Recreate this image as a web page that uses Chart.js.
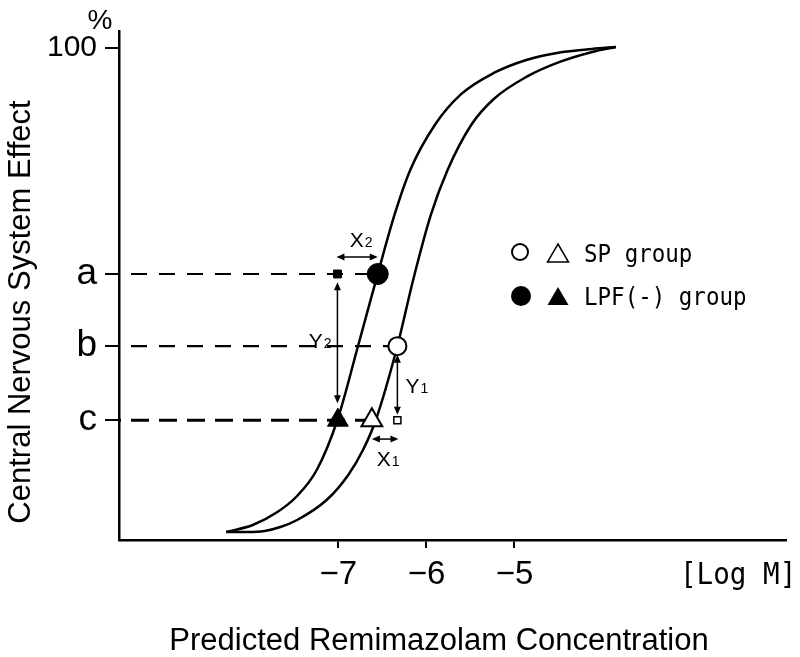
<!DOCTYPE html>
<html><head><meta charset="utf-8">
<script src="https://cdn.jsdelivr.net/npm/chart.js@4.4.0/dist/chart.umd.min.js"></script>
<style>html,body{margin:0;padding:0;background:#fff;}#wrap{width:800px;height:657px;}</style>
</head><body><div id="wrap"><canvas id="c" width="800" height="657"></canvas></div>
<script>
// ---------------- data ----------------
const xTickValues = [-7, -6, -5];
const xTickLabels = ['\u22127', '\u22126', '\u22125'];
const levelA = 53.3, levelB = 38.4, levelC = 23.1;
const yTickValues = [100, levelA, levelB, levelC];
const yTickLabels = ['100', 'a', 'b', 'c'];

// LPF(-) group curve (left)
const lpfCurveX = [-8.274, -7.972, -7.693, -7.469, -7.246, -7.011, -6.777, -6.553, -6.363, -6.184, -5.905, -5.603, -5.235, -4.866, -4.486, -4.117, -3.849];
const lpfCurveY = [0, 1.45, 4.13, 7.44, 12.81, 23.14, 38.43, 53.31, 65.50, 74.79, 84.09, 90.50, 94.83, 97.52, 99.07, 99.79, 100.2];
// SP group curve (right)
const spCurveX = [-8.274, -8.028, -7.838, -7.659, -7.469, -7.134, -6.888, -6.721, -6.575, -6.330, -6.151, -5.950, -5.760, -5.492, -5.235, -4.866, -4.486, -4.117, -3.849];
const spCurveY = [0, 0, 0.21, 1.03, 2.48, 6.61, 11.78, 16.94, 23.14, 38.43, 52.07, 65.50, 74.79, 84.09, 89.46, 94.01, 97.11, 99.17, 100.2];

// markers: LPF circle (a), SP circle (b), LPF triangle (c), SP triangle (c), reference square (a), reference square (c)
const markerX = [-6.553, -6.330, -7.006, -6.620, -7.011, -6.330];
const markerY = [levelA, levelB, levelC, levelC, levelA, levelC];

// dashed guide lines from the y axis
const guideY = [levelA, levelB, levelC];
const guideEndX = [-6.553, -6.330, -6.620];

// double arrows
const arrowLabels = ['X', 'Y', 'Y', 'X'];
const arrowSubs = ['2', '2', '1', '1'];
const arrowStartX = [-7.022, -7.011, -6.330, -6.620];
const arrowStartY = [56.8, 51.6, 36.6, 19.2];
const arrowEndX = [-6.553, -7.011, -6.330, -6.318];
const arrowEndY = [56.8, 26.6, 24.2, 19.2];

// ---------------- chart ----------------
const SANS = "'Liberation Sans', Arial, sans-serif";
const MONO = "'DejaVu Sans Mono', 'Liberation Mono', monospace";
const pts = (xs, ys) => xs.map((x, i) => ({x: x, y: ys[i]}));
const X_MIN = -9.492, X_MAX = -1.916;

const datasets = [];
datasets.push({
  data: pts(markerX, markerY), showLine: false,
  pointStyle: ['circle', 'circle', 'triangle', 'triangle', 'rect', 'rect'],
  pointRadius: [10.5, 9, 12, 12, 5.6, 5],
  pointBackgroundColor: ['#000', '#fff', '#000', '#fff', '#000', '#fff'],
  pointBorderColor: '#000',
  pointBorderWidth: [1, 2, 1, 2, 1, 1.5],
  pointHoverRadius: 0
});
const guideDash = [[16, 12], [16, 12], [18, 10]];
const guideWidth = [2.2, 2.2, 3];
guideY.forEach((y, i) => {
  datasets.push({
    data: [{x: X_MIN, y: y}, {x: guideEndX[i], y: y}], showLine: true,
    borderColor: '#000', borderWidth: guideWidth[i], borderDash: guideDash[i], borderDashOffset: 16,
    pointRadius: 0, fill: false
  });
});
[[lpfCurveX, lpfCurveY], [spCurveX, spCurveY]].forEach(c => {
  datasets.push({
    data: pts(c[0], c[1]), showLine: true, borderColor: '#000', borderWidth: 2.5,
    cubicInterpolationMode: 'monotone', pointRadius: 0, fill: false
  });
});

function drawArrowHead(ctx, x, y, ang) {
  const L = 8, W = 3.5;
  ctx.beginPath();
  ctx.moveTo(x, y);
  ctx.lineTo(x - L * Math.cos(ang) + W * Math.sin(ang), y - L * Math.sin(ang) - W * Math.cos(ang));
  ctx.lineTo(x - L * Math.cos(ang) - W * Math.sin(ang), y - L * Math.sin(ang) + W * Math.cos(ang));
  ctx.closePath();
  ctx.fill();
}

const labelOffsets = [[4, -10, 'center'], [-6, 5, 'right'], [8, 8, 'left'], [3, 27, 'center']];

const annot = {
  id: 'annot',
  afterDatasetsDraw(chart) {
    const ctx = chart.ctx, xs = chart.scales.x, ys = chart.scales.y;
    ctx.save();
    ctx.fillStyle = '#000'; ctx.strokeStyle = '#000';
    // arrows
    for (let i = 0; i < arrowStartX.length; i++) {
      const x1 = xs.getPixelForValue(arrowStartX[i]), y1 = ys.getPixelForValue(arrowStartY[i]);
      const x2 = xs.getPixelForValue(arrowEndX[i]), y2 = ys.getPixelForValue(arrowEndY[i]);
      const ang = Math.atan2(y2 - y1, x2 - x1);
      ctx.lineWidth = 1.5;
      ctx.beginPath(); ctx.moveTo(x1 + 4 * Math.cos(ang), y1 + 4 * Math.sin(ang));
      ctx.lineTo(x2 - 4 * Math.cos(ang), y2 - 4 * Math.sin(ang)); ctx.stroke();
      drawArrowHead(ctx, x2, y2, ang);
      drawArrowHead(ctx, x1, y1, ang + Math.PI);
      const mx = (x1 + x2) / 2, my = (y1 + y2) / 2;
      const off = labelOffsets[i];
      ctx.font = '21px ' + SANS;
      const w1 = ctx.measureText(arrowLabels[i]).width;
      ctx.font = '14px ' + SANS;
      const w2 = ctx.measureText(arrowSubs[i]).width;
      const tw = w1 + 1 + w2;
      let lx = mx + off[0];
      if (off[2] === 'center') lx -= tw / 2; else if (off[2] === 'right') lx -= tw;
      const by = my + off[1];
      ctx.textBaseline = 'alphabetic'; ctx.textAlign = 'left';
      ctx.font = '21px ' + SANS; ctx.fillText(arrowLabels[i], lx, by);
      ctx.font = '14px ' + SANS; ctx.fillText(arrowSubs[i], lx + w1 + 1, by);
    }
    // legend
    ctx.lineWidth = 2;
    ctx.beginPath(); ctx.arc(520, 252, 8, 0, Math.PI * 2); ctx.fillStyle = '#fff'; ctx.fill(); ctx.stroke();
    ctx.fillStyle = '#000';
    ctx.beginPath(); ctx.arc(521, 296, 10, 0, Math.PI * 2); ctx.fill();
    function tri(cx, cy, filled) {
      ctx.beginPath(); ctx.moveTo(cx, cy - 11); ctx.lineTo(cx + 10.5, cy + 7); ctx.lineTo(cx - 10.5, cy + 7); ctx.closePath();
      if (filled) ctx.fill(); else { ctx.lineWidth = 1.5; ctx.stroke(); }
    }
    tri(558, 255, false);
    tri(558, 298, true);
    ctx.font = '25px ' + MONO; ctx.textAlign = 'left'; ctx.textBaseline = 'alphabetic';
    ctx.save(); ctx.translate(584, 262); ctx.scale(0.9, 1); ctx.fillText('SP group', 0, 0); ctx.restore();
    ctx.save(); ctx.translate(584, 305); ctx.scale(0.9, 1); ctx.fillText('LPF(-) group', 0, 0); ctx.restore();
    // unit labels
    ctx.font = '30px ' + MONO;
    ctx.save(); ctx.translate(680, 584); ctx.scale(0.92, 1); ctx.fillText('[Log M]', 0, 0); ctx.restore();
    ctx.font = '28px ' + SANS; ctx.textAlign = 'center';
    ctx.fillText('%', 100, 29);
    // axis titles
    ctx.font = '31px ' + SANS; ctx.textAlign = 'center'; ctx.textBaseline = 'alphabetic';
    ctx.fillText('Predicted Remimazolam Concentration', 439, 650);
    ctx.save(); ctx.translate(30, 312); ctx.rotate(-Math.PI / 2);
    ctx.fillText('Central Nervous System Effect', 0, 0); ctx.restore();
    ctx.restore();
  }
};

new Chart(document.getElementById('c'), {
  type: 'scatter',
  data: {datasets: datasets},
  options: {
    responsive: false, animation: false, devicePixelRatio: 1,
    layout: {padding: {left: 0, top: 31, right: 3, bottom: 0}},
    plugins: {legend: {display: false}, tooltip: {enabled: false}},
    events: [],
    scales: {
      x: {
        type: 'linear', min: X_MIN, max: X_MAX,
        afterBuildTicks: s => { s.ticks = xTickValues.map(v => ({value: v})); },
        afterFit: s => { s.height = 117; },
        border: {display: true, color: '#000', width: 2.5},
        grid: {display: true, drawOnChartArea: false, drawTicks: true, tickLength: 8, color: '#000', lineWidth: 2},
        ticks: {autoSkip: false, maxRotation: 0, color: '#000', padding: 7, font: {family: SANS, size: 33},
          callback: v => xTickLabels[xTickValues.indexOf(v)]},
        title: {display: false}
      },
      y: {
        type: 'linear', min: -1.65, max: 103.5,
        afterBuildTicks: s => { s.ticks = yTickValues.map(v => ({value: v})); },
        afterFit: s => { s.width = 119; },
        border: {display: true, color: '#000', width: 2.5},
        grid: {display: true, drawOnChartArea: false, drawTicks: true, tickLength: 14, color: '#000', lineWidth: 2},
        ticks: {autoSkip: false, color: '#000', padding: 8,
          font: c => (c.tick && c.tick.value === 100) ? {family: SANS, size: 30} : {family: SANS, size: 37},
          callback: v => yTickLabels[yTickValues.indexOf(v)]},
        title: {display: false}
      }
    }
  },
  plugins: [annot]
});
</script></body></html>
